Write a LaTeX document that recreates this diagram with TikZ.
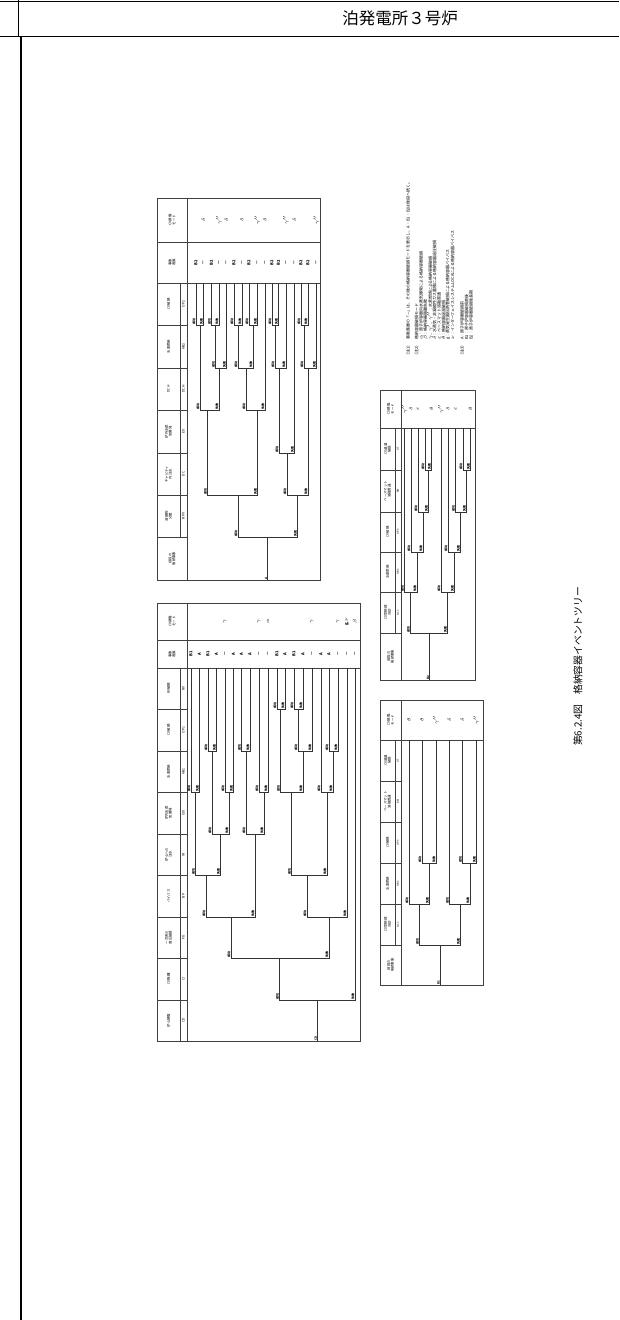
\documentclass[tikz,border=0pt]{standalone}
\usepackage{fontspec}
\newfontfamily\jp{Noto Sans CJK JP}
\newcommand{\ftr}{\jp\bfseries\fontsize{3}{3.4}\selectfont}
\newcommand{\fhd}{\jp\fontsize{3.4}{3.9}\selectfont}
\newcommand{\fvl}{\jp\bfseries\fontsize{4}{4.6}\selectfont}
\newcommand{\fnt}{\jp\fontsize{4}{4.5}\selectfont}
\newcommand{\fcap}{\jp\fontsize{9.8}{11}\selectfont}

\begin{document}
\begin{tikzpicture}[x=1pt,y=-1pt,
    tree/.style={line width=0.65pt, black!80},
    frame/.style={line width=0.65pt, black!75},
    brl/.style={rotate=90, anchor=south west, inner sep=0.3pt, font=\ftr},
    hd/.style={rotate=90, align=center, inner sep=0pt, font=\fhd},
    val/.style={rotate=90, inner sep=0pt, font=\fvl},
    note/.style={rotate=90, anchor=west, inner sep=0pt, font=\fnt}]
    \useasboundingbox (0,0) rectangle (619,1320);

    % page frame
    \draw[line width=1pt] (0,1.5) -- (619,1.5);
    \draw[line width=1pt] (0,36) -- (619,36);
    \draw[line width=0.6pt] (18.5,0) -- (18.5,36);
    \draw[line width=1.3pt] (21,36) -- (21,1320);
    \node[font=\jp\fontsize{16.5}{18}\selectfont] (plant) at (400,18.5) {泊発電所３号炉};

    % table 1: CD ... RV
    \draw[frame] (157,603) rectangle (360,1041);
    \draw[frame] (157,640) -- (360,640) (157,668) -- (360,668)
                 (187,603) -- (187,1041) (180,668) -- (180,1041);
    \foreach \yy in {709,751,792,834,875,917,958,1000}
        \draw[frame] (157,\yy) -- (187,\yy);
    \node[hd] at (172,621.5) {CV損傷\\モード};
    \node[hd] at (172,654) {事象\\進展};
    \foreach \yc/\t/\c in {688.5/RV破損/RV, 730/CV破損/OP1, 771.5/水素燃焼/HB1,
        813/{炉内水蒸\\気爆発}/ISX, 854.5/{炉心への\\注水}/IR, 896/バイパス/BP,
        937.5/{一次系の\\高圧破損}/FD, 979/CV隔離/CI, 1020.5/炉心損傷/CD}
        {\node[hd] at (168.5,\yc) {\t}; \node[hd] at (183.5,\yc) {\c};}
    \draw[tree] (317.5,1041) -- (317.5,1000);
    \node[brl] at (317.5,1041) {CD};
    \foreach \ys/\xa/\ya/\xb/\yb in {1000/279.5/958/355/668, 958/231/917/329/917,
        917/206/875/255/834, 875/195.5/792/220.5/834, 792/191/668/199.5/668,
        834/212/751/229/792, 751/208/668/216.5/668, 792/225/668/233.5/668,
        834/246/751/264/792, 751/241.5/668/250/668, 792/259/668/268/668,
        917/307/875/347/668, 875/291.5/792/327/792, 792/280.5/709/303/751,
        709/277/668/285/668, 751/298/709/312/668, 709/294/668/303/668,
        792/321/668/333/751, 751/329/668/338/668}
        {\draw[tree] (\xa,\ya) |- (\xb,\ys) -- (\xb,\yb);
         \node[brl] at (\xa,\ys) {成功};
         \node[brl] at (\xb,\ys) {失敗};}
    \foreach \x/\e/\m in {191/B1/, 199.5/A/, 208/B1/, 216.5/A/, 225/—/$\gamma$,
        233.5/A/, 241.5/A/, 250/A/, 259/—/$\gamma$, 268/—/$\alpha$, 277/B1/,
        285/A/, 294/B1/, 303/A/, 312/—/$\gamma$, 321/A/, 329/A/, 338/—/$\gamma$,
        347/—/{g, $\nu$}, 355/—/$\beta$}
        {\node[val] at (\x,654) {\e}; \node[val] at (\x,621.5) {\m};}

    % table 2: RPV ... OP2
    \draw[frame] (157,198) rectangle (320,580);
    \draw[frame] (157,242) -- (320,242) (157,283) -- (320,283)
                 (187,198) -- (187,580) (180,283) -- (180,537);
    \foreach \yy in {325,368,410,453,495,537}
        \draw[frame] (157,\yy) -- (187,\yy);
    \node[hd] at (172,220) {CV損傷\\モード};
    \node[hd] at (172,262.5) {事象\\進展};
    \node[hd] at (172,558.5) {前段の\\後続事象};
    \foreach \yc/\t/\c in {304/CV破損/OP2, 346.5/水素燃焼/HB2, 389/DCH/DCH,
        431.5/{炉外水蒸\\気爆発}/EX, 474/{キャビティ\\内注水}/DC, 516/{溶融物\\分散}/RPV}
        {\node[hd] at (168.5,\yc) {\t}; \node[hd] at (183.5,\yc) {\c};}
    \draw[tree] (267.5,580) -- (267.5,537);
    \node[brl] at (267.5,580) {A};
    \foreach \ys/\xa/\ya/\xb/\yb in {537/238/495/297.5/495, 495/207.5/410/257.5/410,
        410/200/325/219/368, 325/196/283/203.5/283, 368/215.5/325/226.5/283,
        325/211.5/283/219/283, 410/246/368/265/283, 368/238/325/253/325,
        325/234/283/242/283, 325/249/283/257.5/283, 495/287/453/308/368,
        453/279/368/294.5/283, 368/275/325/286/283, 325/272/283/278.5/283,
        368/304/325/316.5/283, 325/301/283/308/283}
        {\draw[tree] (\xa,\ya) |- (\xb,\ys) -- (\xb,\yb);
         \node[brl] at (\xa,\ys) {成功};
         \node[brl] at (\xb,\ys) {失敗};}
    \foreach \x/\e/\m in {196/B2/, 203.5/—/$\delta$, 211.5/B2/, 219/—/$\gamma''$,
        226.5/—/$\delta$, 234/B2/, 242/—/$\delta$, 249/B2/, 257.5/—/$\gamma''$,
        265/—/$\delta$, 272/B2/, 278.5/B2/, 286/—/$\gamma''$, 294.5/—/$\delta$,
        301/B2/, 308/B2/, 316.5/—/$\gamma''$}
        {\node[val] at (\x,262.5) {\e}; \node[val] at (\x,220) {\m};}

    % table 3: B1 after vessel failure
    \draw[frame] (380,700) rectangle (483,985);
    \draw[frame] (380,740) -- (483,740) (401,700) -- (401,985) (395,740) -- (395,945);
    \foreach \yy in {781,822,863,904,945}
        \draw[frame] (380,\yy) -- (401,\yy);
    \node[hd] at (390.5,720) {CV損傷\\モード};
    \node[hd] at (390.5,965) {前段の\\後続事象};
    \foreach \yc/\t/\c in {760.5/{CV過温\\破損}/OT, 801.5/{ベースマット\\溶融貫通}/BM,
        842.5/CV破損/OP3, 883.5/水素燃焼/HB3, 924.5/{CV気相部\\冷却}/NCC}
        {\node[hd] at (387.5,\yc) {\t}; \node[hd,font=\jp\fontsize{2.6}{3}\selectfont] at (398,\yc) {\c};}
    \draw[tree] (440,985) -- (440,945);
    \node[brl] at (440,985) {B1};
    \foreach \ys/\xa/\ya/\xb/\yb in {945/419.5/904/460.5/904, 904/409/740/429.5/863,
        863/422/740/436/740, 904/449.5/740/470/863, 863/462.5/740/476.5/740}
        {\draw[tree] (\xa,\ya) |- (\xb,\ys) -- (\xb,\yb);
         \node[brl] at (\xa,\ys) {成功};
         \node[brl] at (\xb,\ys) {失敗};}
    \foreach \x/\m in {409/$\theta$, 422/$\theta$, 436/$\gamma''$, 449.5/$\delta$,
        462.5/$\delta$, 476.5/$\gamma''$}
        {\node[val] at (\x,720) {\m};}

    % table 4: B2 after vessel failure
    \draw[frame] (380,390) rectangle (475,680);
    \draw[frame] (380,428) -- (475,428) (401,390) -- (401,680) (395,428) -- (395,633);
    \foreach \yy in {470,512,552,592,633}
        \draw[frame] (380,\yy) -- (401,\yy);
    \node[hd] at (390.5,409) {CV損傷\\モード};
    \node[hd] at (390.5,656.5) {前段の\\後続事象};
    \foreach \yc/\t/\c in {449/{CV過温\\破損}/OT, 491/{ベースマット\\溶融貫通}/BM,
        532/CV破損/OP3, 572/水素燃焼/HB3, 612.5/{CV気相部\\冷却}/NCC}
        {\node[hd] at (387.5,\yc) {\t}; \node[hd,font=\jp\fontsize{2.6}{3}\selectfont] at (398,\yc) {\c};}
    \draw[tree] (429.5,680) -- (429.5,633);
    \node[brl] at (429.5,680) {B2};
    \foreach \ys/\xa/\ya/\xb/\yb in {633/410.5/592/447.5/592, 592/404.5/428/417/552,
        552/411/428/423/512, 512/418/428/428.5/470, 470/425/428/431.5/428,
        592/441/428/454.5/552, 552/448/428/460.5/512, 512/455.5/428/466.5/470,
        470/463/428/470.5/428}
        {\draw[tree] (\xa,\ya) |- (\xb,\ys) -- (\xb,\yb);
         \node[brl] at (\xa,\ys) {成功};
         \node[brl] at (\xb,\ys) {失敗};}
    \foreach \x/\m in {404.5/$\gamma''$, 411/$\delta$, 418/$\varepsilon$, 431.5/$\theta$,
        441/$\gamma''$, 448/$\delta$, 455.5/$\varepsilon$, 470.5/$\theta$}
        {\node[val] at (\x,409) {\m};}

    % notes
    \node[note] (n1) at (408,358) {（注1）};
    \node[note] at (408,340) {事象進展の「—」は、その後の格納容器破損モードを表示し、A・B1・B2は後段へ続く。};
    \node[note] (n2) at (416.5,358) {（注2）};
    \foreach \xn/\t in {416.5/格納容器破損モード,
        421/{$\alpha$：原子炉容器内水蒸気爆発による格納容器破損},
        425.5/{$\beta$：格納容器隔離失敗},
        430/{$\gamma$，$\gamma'$，$\gamma''$：水素燃焼による格納容器破損},
        434.5/{$\delta$：水蒸気・非凝縮性ガス蓄積による格納容器過圧破損},
        439/{$\varepsilon$：ベースマット溶融貫通},
        443.5/{$\theta$：格納容器過温破損},
        448/{g：蒸気発生器伝熱管破損による格納容器バイパス},
        452.5/{$\nu$：インターフェイスシステムLOCAによる格納容器バイパス}}
        {\node[note] at (\xn,340) {\t};}
    \node[note] (n3) at (462,358) {（注3）};
    \foreach \xn/\t in {462/{A：原子炉容器破損前}, 466.5/{B1：原子炉容器破損直後},
        471/{B2：原子炉容器破損後長期}}
        {\node[note] at (\xn,340) {\t};}

    % caption
    \node[rotate=90, anchor=west, inner sep=0pt, font=\fcap] (cap) at (578,746)
        {第6.2.4図\quad 格納容器イベントツリー};
\end{tikzpicture}
\end{document}
